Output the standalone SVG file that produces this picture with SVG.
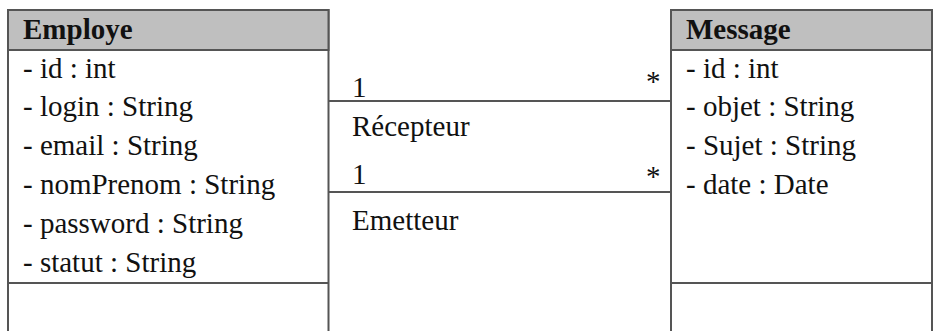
<svg xmlns="http://www.w3.org/2000/svg" width="933" height="331" viewBox="0 0 933 331">
  <style>
    .box { fill: #ffffff; stroke: #555555; stroke-width: 2; }
    .head { fill: #bfbfbf; stroke: #555555; stroke-width: 2; }
    .sep { stroke: #555555; stroke-width: 2; fill: none; }
    .link { stroke: #555555; stroke-width: 2; fill: none; }
    text { font-family: "Liberation Serif", "Times New Roman", serif; font-size: 29px; fill: #111111; }
    .title { font-weight: bold; }
  </style>
  <rect width="933" height="331" fill="#ffffff"/>

  <!-- class Employe -->
  <g id="employe">
    <rect class="box" x="8" y="10" width="320.5" height="340"/>
    <rect class="head" x="8" y="10" width="320.5" height="40"/>
    <text class="title" x="23" y="38.5">Employe</text>
    <text x="23" y="77.5">- id : int</text>
    <text x="23" y="116.3">- login : String</text>
    <text x="23" y="155">- email : String</text>
    <text x="23" y="194">- nomPrenom : String</text>
    <text x="23" y="233">- password : String</text>
    <text x="23" y="271.7">- statut : String</text>
    <line class="sep" x1="8" y1="283" x2="328.5" y2="283"/>
  </g>

  <!-- class Message -->
  <g id="message">
    <rect class="box" x="671" y="10" width="261" height="340"/>
    <rect class="head" x="671" y="10" width="261" height="40"/>
    <text class="title" x="686" y="38.5">Message</text>
    <text x="686" y="77.5">- id : int</text>
    <text x="686" y="116.3">- objet : String</text>
    <text x="686" y="155">- Sujet : String</text>
    <text x="686" y="194">- date : Date</text>
    <line class="sep" x1="671" y1="283" x2="932" y2="283"/>
  </g>

  <!-- associations between Employe and Message -->
  <g id="connectors">
    <g id="recepteur">
      <line class="link" x1="328.5" y1="101" x2="671" y2="101"/>
      <text x="352" y="97">1</text>
      <text x="646" y="91">*</text>
      <text x="352" y="136">Récepteur</text>
    </g>
    <g id="emetteur">
      <line class="link" x1="328.5" y1="192" x2="671" y2="192"/>
      <text x="352" y="184">1</text>
      <text x="646" y="186">*</text>
      <text x="352" y="230">Emetteur</text>
    </g>
  </g>
</svg>
